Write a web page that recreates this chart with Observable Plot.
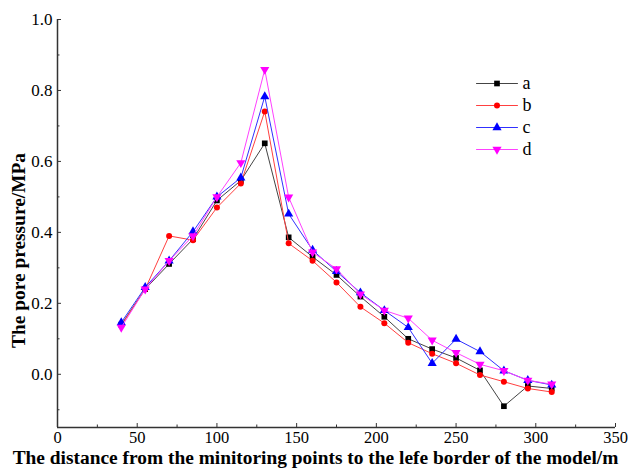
<!DOCTYPE html>
<html><head><meta charset="utf-8">
<script src="https://cdn.jsdelivr.net/npm/d3@7"></script>
<script src="https://cdn.jsdelivr.net/npm/@observablehq/plot@0.6"></script>
<style>body{margin:0;background:#fff} svg{display:block;background:#fff}</style>
</head><body><div id="chart"></div>
<script>
const distance = [40,55,70,85,100,115,130,145,160,175,190,205,220,235,250,265,280,295,310];
const seriesA = [0.140,0.240,0.311,0.381,0.490,0.546,0.651,0.386,0.331,0.280,0.219,0.162,0.100,0.071,0.046,0.011,-0.090,-0.033,-0.040];
const seriesB = [0.138,0.240,0.390,0.378,0.470,0.538,0.741,0.369,0.320,0.259,0.190,0.144,0.089,0.058,0.031,-0.002,-0.021,-0.040,-0.050];
const seriesC = [0.146,0.245,0.320,0.402,0.500,0.554,0.783,0.452,0.350,0.290,0.230,0.180,0.132,0.031,0.099,0.064,0.010,-0.017,-0.030];
const seriesD = [0.132,0.240,0.320,0.390,0.500,0.596,0.859,0.499,0.344,0.297,0.226,0.180,0.158,0.096,0.061,0.028,0.010,-0.017,-0.028];
const seriesNames = ["a","b","c","d"];
const seriesValues = [seriesA, seriesB, seriesC, seriesD];
const markerColors = ["#000000","#ff0000","#0000ff","#ff00ff"];
const lineColors = ["#444444","#ff4040","#3030ff","#ff40ff"];
const markerSymbols = ["square","circle","triangle","triangle"];
const markerRotate = [0,0,0,180];
const markerSize = [3.2,3,3.4,3.4];
const xMajorTicks = [0,50,100,150,200,250,300,350];
const xMinorTicks = [25,75,125,175,225,275,325];
const yMajorTicks = [0,0.2,0.4,0.6,0.8,1.0];
const yMinorTicks = [-0.1,0.1,0.3,0.5,0.7,0.9];
const xTitle = "The distance from the minitoring points to the lefe border of the model/m";
const yTitle = "The pore pressure/MPa";

const font = "Liberation Serif, Times New Roman, serif";
const rows = seriesNames.map((name, i) => distance.map((x, j) => ({series: name, x, y: seriesValues[i][j]})));
const lineShape = {draw(context, l) { context.moveTo(0, 0); context.lineTo(0, -l); }};

const marks = [];
rows.forEach((data, i) => {
  marks.push(Plot.line(data, {x: "x", y: "y", stroke: lineColors[i], strokeWidth: 1}));
  marks.push(Plot.dot(data, {x: "x", y: "y", symbol: markerSymbols[i], r: markerSize[i], fill: markerColors[i], rotate: markerRotate[i], stroke: "none"}));
});
// legend
seriesNames.forEach((name, i) => {
  const dy = 64 + i * 22;
  marks.push(Plot.vector([name], {frameAnchor: "top-left", dx: 439.5, dy, length: 41, rotate: 90, anchor: "middle", shape: lineShape, stroke: lineColors[i], strokeWidth: 1}));
  marks.push(Plot.dot([name], {frameAnchor: "top-left", dx: 439.5, dy, symbol: markerSymbols[i], r: markerSize[i], fill: markerColors[i], rotate: markerRotate[i], stroke: "none"}));
  marks.push(Plot.text([name], {text: d => d, frameAnchor: "top-left", dx: 465, dy, textAnchor: "start", lineAnchor: "middle", fontSize: 18, fontFamily: font, fill: "#000"}));
});

const chart = Plot.plot({
  width: 629, height: 468,
  marginLeft: 57, marginRight: 14, marginTop: 19, marginBottom: 41,
  style: {fontFamily: font, background: "#fff", color: "#000"},
  x: {domain: [0, 350]},
  y: {domain: [-0.15, 1.0]},
  marks: [
    Plot.axisX(xMajorTicks, {anchor: "bottom", tickSize: 0, tickPadding: 4, fontSize: 16.5, fontFamily: font, fill: "#000", label: null}),
    Plot.axisX(xMajorTicks, {anchor: "bottom", tickSize: 4, dy: -4, text: null, stroke: "#333", label: null}),
    Plot.axisX(xMinorTicks, {anchor: "bottom", tickSize: 2.5, dy: -2.5, text: null, stroke: "#333", label: null}),
    Plot.axisY(yMajorTicks, {anchor: "left", tickSize: 0, tickPadding: 5, fontSize: 17, fontFamily: font, fill: "#000", tickFormat: d3.format(".1f"), label: null}),
    Plot.axisY(yMajorTicks, {anchor: "left", tickSize: 4, dx: 4, text: null, stroke: "#333", label: null}),
    Plot.axisY(yMinorTicks, {anchor: "left", tickSize: 2.5, dx: 2.5, text: null, stroke: "#333", label: null}),
    Plot.ruleX([0], {stroke: "#333", strokeWidth: 1.5}),
    Plot.ruleY([-0.15], {stroke: "#333", strokeWidth: 1.5}),
    ...marks,
    Plot.text([xTitle], {text: d => d, frameAnchor: "bottom", dx: -21, dy: 30, textAnchor: "middle", lineAnchor: "middle", fontSize: 19.4, fontWeight: "bold", fontFamily: font, fill: "#000"}),
    Plot.text([yTitle], {text: d => d, frameAnchor: "left", dx: -39, dy: 27, textAnchor: "middle", rotate: -90, lineAnchor: "middle", fontSize: 19.4, fontWeight: "bold", fontFamily: font, fill: "#000"})
  ]
});
document.getElementById("chart").appendChild(chart);
</script>
</body></html>
